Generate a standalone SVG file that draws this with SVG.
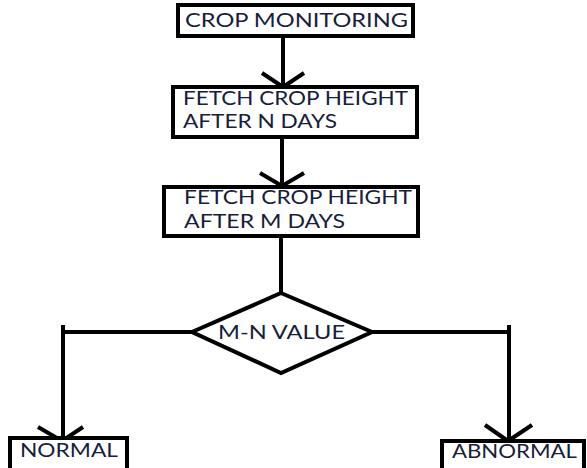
<svg xmlns="http://www.w3.org/2000/svg" width="587" height="468" viewBox="0 0 587 468">
<style>
.box{fill:#fff;stroke:#000;stroke-width:4}
.ln{fill:none;stroke:#000;stroke-width:4}
.t{font-family:Lato,"Liberation Sans",sans-serif;font-size:19px;fill:#17203a}
</style>
<rect width="587" height="468" fill="#fff"/>
<g id="connectors">
<line class="ln" x1="283" y1="36" x2="283" y2="87"/>
<polyline class="ln" points="262,73 283,87 304,73"/>
<line class="ln" x1="282" y1="137" x2="282" y2="186"/>
<polyline class="ln" points="260,173 282,186 304,173"/>
<line class="ln" x1="281" y1="236" x2="281" y2="293"/>
<polyline class="ln" points="63,442 63,332 192,332"/>
<polyline class="ln" points="63,325 63,332"/>
<polyline class="ln" points="38,427 62,441 83,427"/>
<polyline class="ln" points="372,332 509,332 509,441"/>
<line class="ln" x1="509" y1="325" x2="509" y2="332"/>
<polyline class="ln" points="485,425 508,441 532,425"/>
</g>
<g id="n1">
<rect class="box" x="178" y="5" width="235" height="31"/>
<text class="t" x="185" y="27" textLength="223" lengthAdjust="spacingAndGlyphs">CROP MONITORING</text>
</g>
<g id="n2">
<rect class="box" x="173" y="87" width="244" height="50"/>
<text class="t" x="183" y="105" textLength="225" lengthAdjust="spacingAndGlyphs">FETCH CROP HEIGHT</text>
<text class="t" x="183" y="128" textLength="154" lengthAdjust="spacingAndGlyphs">AFTER N DAYS</text>
</g>
<g id="n3">
<rect class="box" x="164" y="187" width="254" height="49"/>
<text class="t" x="184" y="204" textLength="228" lengthAdjust="spacingAndGlyphs">FETCH CROP HEIGHT</text>
<text class="t" x="184" y="228" textLength="161" lengthAdjust="spacingAndGlyphs">AFTER M DAYS</text>
</g>
<g id="n4">
<polygon class="box" points="281,293 372,332 281,373 192,332"/>
<text class="t" x="218" y="339" textLength="127" lengthAdjust="spacingAndGlyphs">M-N VALUE</text>
</g>
<g id="n5">
<rect class="box" x="10" y="438" width="117" height="35"/>
<text class="t" x="20" y="457" textLength="98" lengthAdjust="spacingAndGlyphs">NORMAL</text>
</g>
<g id="n6">
<rect class="box" x="442" y="441" width="142" height="34"/>
<text class="t" x="452" y="458" textLength="125" lengthAdjust="spacingAndGlyphs">ABNORMAL</text>
</g>
</svg>
